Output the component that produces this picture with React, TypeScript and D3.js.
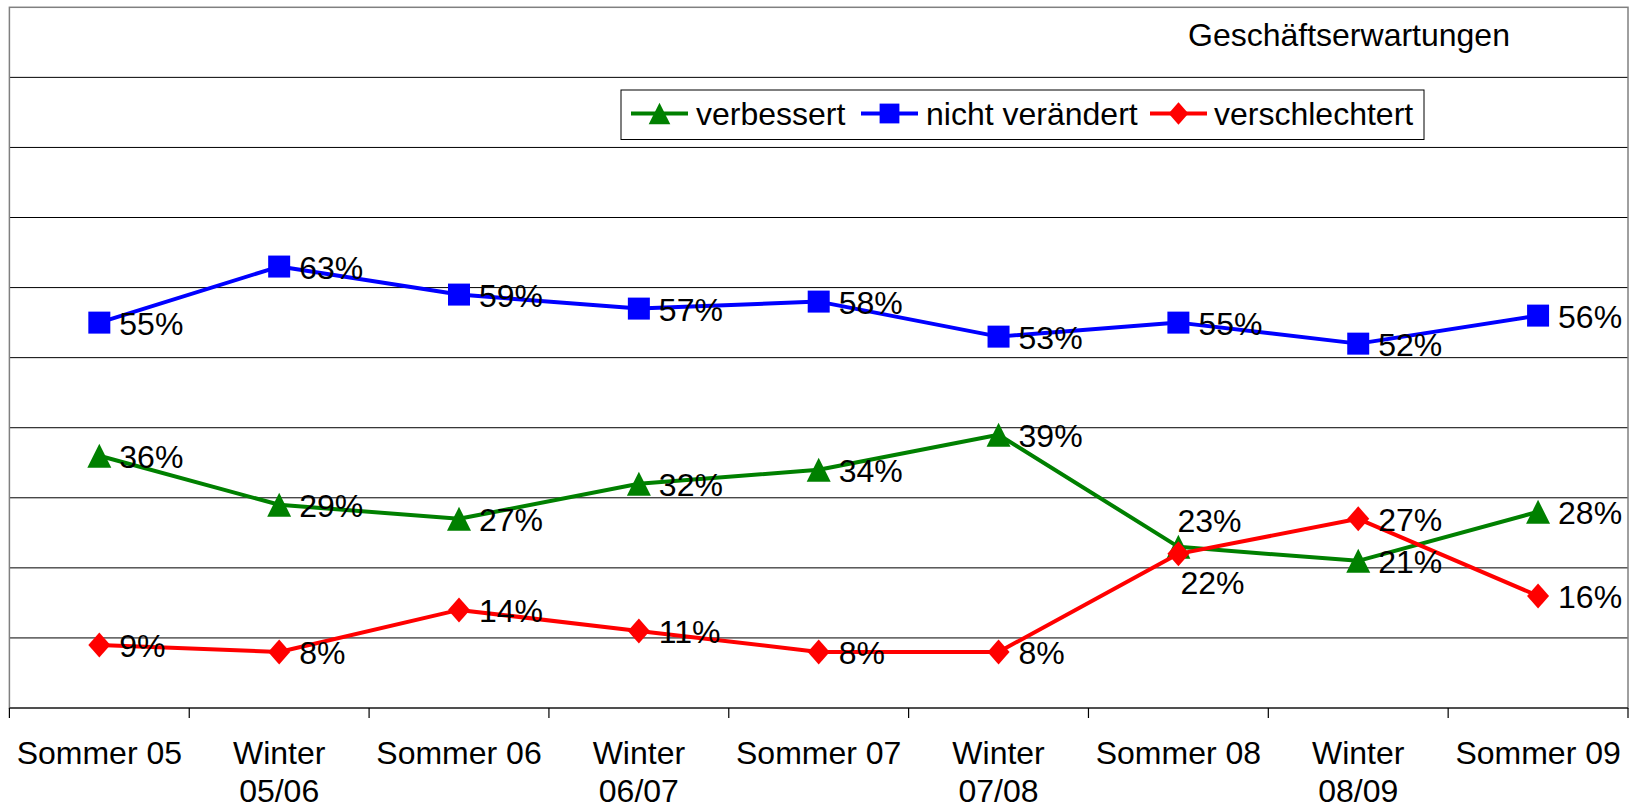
import React from "react";
import * as d3 from "d3";

const categories: string[] = [
  "Sommer 05",
  "Winter\n05/06",
  "Sommer 06",
  "Winter\n06/07",
  "Sommer 07",
  "Winter\n07/08",
  "Sommer 08",
  "Winter\n08/09",
  "Sommer 09",
];

const verbessert: number[] = [36, 29, 27, 32, 34, 39, 23, 21, 28];
const nichtVeraendert: number[] = [55, 63, 59, 57, 58, 53, 55, 52, 56];
const verschlechtert: number[] = [9, 8, 14, 11, 8, 8, 22, 27, 16];

const seriesNames: string[] = ["verbessert", "nicht verändert", "verschlechtert"];
const yTicks: number[] = [0, 10, 20, 30, 40, 50, 60, 70, 80, 90, 100];
const title = "Geschäftserwartungen";

const W = 1633;
const H = 809;
const FONT = "'Liberation Sans', Arial, sans-serif";
const FS = 32;

const plot = { left: 9.4, right: 1628, top: 7.3, bottom: 708 };

type Shape = "triangle" | "square" | "diamond";

const seriesStyle: { color: string; shape: Shape }[] = [
  { color: "#008000", shape: "triangle" },
  { color: "#0000FF", shape: "square" },
  { color: "#FF0000", shape: "diamond" },
];

// manual label placements (series index - point index -> [dx, dyBaseline])
const labelOverrides: Record<string, [number, number]> = {
  "0-6": [-1, -15],
  "2-6": [2, 40],
};

function markerPath(shape: Shape, cx: number, cy: number, s = 1): string {
  if (shape === "triangle") {
    const h = 12 * s;
    return `M${cx},${cy - h}L${cx + h},${cy + h}L${cx - h},${cy + h}Z`;
  }
  if (shape === "square") {
    const h = 11 * s;
    return `M${cx - h},${cy - h}H${cx + h}V${cy + h}H${cx - h}Z`;
  }
  const hw = 11 * s;
  const hh = 12.5 * s;
  return `M${cx},${cy - hh}L${cx + hw},${cy}L${cx},${cy + hh}L${cx - hw},${cy}Z`;
}

export default function App() {
  const series = [verbessert, nichtVeraendert, verschlechtert];

  const x = d3
    .scaleBand<string>()
    .domain(categories)
    .range([plot.left, plot.right])
    .paddingInner(0)
    .paddingOuter(0);
  const y = d3.scaleLinear().domain([0, 100]).range([plot.bottom, plot.top]);

  const cx = (i: number) => (x(categories[i]) as number) + x.bandwidth() / 2;

  const line = d3
    .line<number>()
    .x((_, i) => cx(i))
    .y((d) => y(d));

  const tickXs = categories.map((c) => x(c) as number).concat([plot.right]);

  const legend = { x: 621, y: 90, w: 803, h: 49.5 };
  const legendItems = [
    { lineX: 631, textX: 696 },
    { lineX: 861, textX: 926 },
    { lineX: 1150, textX: 1214 },
  ];
  const legendY = 113.5;

  return (
    <svg
      width={W}
      height={H}
      style={{ position: "absolute", left: 0, top: 0, display: "block", background: "#fff" }}
      fontFamily={FONT}
    >
      <rect x={0} y={0} width={W} height={H} fill="#fff" />
      {/* gridlines */}
      {yTicks.slice(1, -1).map((t) => (
        <line key={t} x1={plot.left} x2={plot.right} y1={y(t)} y2={y(t)} stroke="#000" strokeWidth={1} />
      ))}
      {/* plot border */}
      <rect
        x={plot.left}
        y={plot.top}
        width={plot.right - plot.left}
        height={plot.bottom - plot.top}
        fill="none"
        stroke="#808080"
        strokeWidth={1.5}
      />
      {/* x axis */}
      <line x1={plot.left} x2={plot.right} y1={plot.bottom} y2={plot.bottom} stroke="#000" strokeWidth={1.2} />
      {tickXs.map((tx, i) => (
        <line key={i} x1={tx} x2={tx} y1={plot.bottom} y2={plot.bottom + 10} stroke="#000" strokeWidth={1.2} />
      ))}
      {categories.map((c, i) => {
        const lines = c.split("\n");
        return (
          <text key={c} x={cx(i)} y={764} textAnchor="middle" fontSize={FS} fill="#000">
            {lines.map((l, j) => (
              <tspan key={j} x={cx(i)} dy={j === 0 ? 0 : 38}>
                {l}
              </tspan>
            ))}
          </text>
        );
      })}
      {/* title */}
      <text x={1188} y={46} fontSize={FS} fill="#000">
        {title}
      </text>
      {/* legend */}
      <rect x={legend.x} y={legend.y} width={legend.w} height={legend.h} fill="#fff" stroke="#000" strokeWidth={1} />
      {seriesNames.map((n, k) => {
        const it = legendItems[k];
        const st = seriesStyle[k];
        return (
          <g key={n}>
            <line x1={it.lineX} x2={it.lineX + 57} y1={legendY} y2={legendY} stroke={st.color} strokeWidth={4} />
            <path d={markerPath(st.shape, it.lineX + 28.5, legendY, 0.9)} fill={st.color} />
            <text x={it.textX} y={legendY + 11.5} fontSize={FS} fill="#000">
              {n}
            </text>
          </g>
        );
      })}
      {/* series */}
      {series.map((vals, k) => (
        <g key={k}>
          <path d={line(vals) || ""} fill="none" stroke={seriesStyle[k].color} strokeWidth={4} strokeLinejoin="round" />
          {vals.map((v, i) => (
            <path key={i} d={markerPath(seriesStyle[k].shape, cx(i), y(v))} fill={seriesStyle[k].color} />
          ))}
        </g>
      ))}
      {/* data labels */}
      {series.map((vals, k) =>
        vals.map((v, i) => {
          const ov = labelOverrides[`${k}-${i}`];
          const dx = ov ? ov[0] : 20;
          const dy = ov ? ov[1] : 12;
          return (
            <text key={`${k}-${i}`} x={cx(i) + dx} y={y(v) + dy} fontSize={FS} fill="#000">
              {`${v}%`}
            </text>
          );
        })
      )}
    </svg>
  );
}
